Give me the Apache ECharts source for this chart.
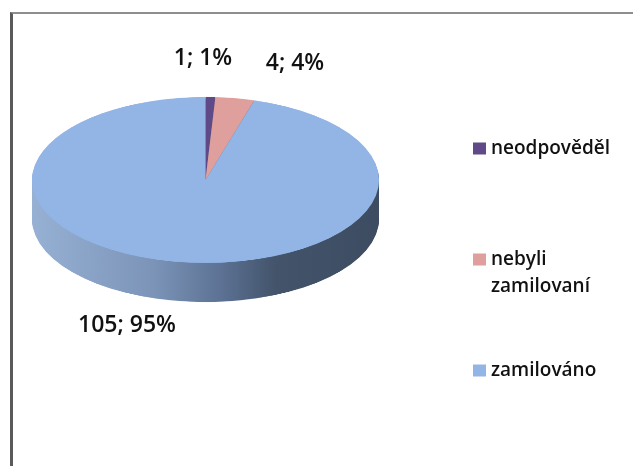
<!DOCTYPE html>
<html>
<head>
<meta charset="utf-8">
<script src="https://cdn.jsdelivr.net/npm/echarts@6/dist/echarts.min.js"></script>
<style>
html, body { margin: 0; padding: 0; background: #fff; }
#wrap { position: relative; width: 633px; height: 466px; overflow: hidden; background: #fff; }
#frame { position: absolute; left: 10px; top: 12px; right: -10px; bottom: -10px; border-left: 3px solid #5a5a5a; border-top: 2px solid #8e8e8e; }
#pie { position: absolute; left: 0; top: 0; width: 633px; transform-origin: 0 0; }
#front { position: absolute; left: 0; top: 0; width: 633px; height: 466px; }
</style>
</head>
<body>
<div id="wrap">
    <div id="frame"></div>
    <div id="pie"></div>
    <div id="front"></div>
</div>
<script>
var categories = ['neodpověděl', 'nebyli zamilovaní', 'zamilováno'];
var counts = [1, 4, 105];
var colors = ['#5f4a87', '#df9f9c', '#92b5e6'];

// pie geometry (final pixels); the ellipse is a circle squashed with css
var cx = 205.5, cy = 180, rad = 173.5, depth = 39;
var squash = 83 / 173.5;
var labelPos = [[203, 58], [295, 63], [127, 325]];

function GetPieData() {
    var Ret = [];
    for (var i = 0; i < categories.length; i++) {
        Ret.push({ name: categories[i], value: counts[i] });
    }
    return Ret;
}

function GetTopData() {
    var Ret = [];
    for (var i = 0; i < categories.length; i++) {
        Ret.push({ name: categories[i], value: counts[i], itemStyle: { color: colors[i] } });
    }
    return Ret;
}

var pieEl = document.getElementById('pie');
pieEl.style.height = Math.ceil(466 / squash) + 'px';
pieEl.style.transform = 'scaleY(' + squash + ')';

var sideColor = {
    type: 'linear', x: cx - rad, y: 0, x2: cx + rad, y2: 0, global: true,
    colorStops: [
        { offset: 0, color: '#97b1d4' },
        { offset: 0.35, color: '#7b94b7' },
        { offset: 0.55, color: '#5c7193' },
        { offset: 0.7, color: '#43546b' },
        { offset: 1, color: '#3d4c61' }
    ]
};

var pieSeries = [];
// side of the 3d pie: the same pie repeated downwards
for (var d = depth; d > 0; d--) {
    pieSeries.push({
        type: 'pie',
        silent: true,
        center: [cx, (cy + d) / squash],
        radius: [0, rad],
        itemStyle: { color: sideColor, borderWidth: 0 },
        label: { show: false },
        labelLine: { show: false },
        data: GetPieData()
    });
}
// top face
pieSeries.push({
    type: 'pie',
    silent: true,
    center: [cx, cy / squash],
    radius: [0, rad],
    itemStyle: { borderWidth: 0 },
    label: { show: false },
    labelLine: { show: false },
    data: GetTopData()
});

var pieChart = echarts.init(pieEl);
pieChart.setOption({
    animation: false,
    series: pieSeries
});

// labels and legend, not squashed (the pie here is only a point, it carries the labels)
var frontChart = echarts.init(document.getElementById('front'));
frontChart.setOption({
    animation: false,
    color: colors,
    legend: {
        orient: 'vertical',
        left: 473,
        top: 135,
        padding: 0,
        itemWidth: 13,
        itemHeight: 12,
        itemGap: 57,
        icon: 'rect',
        selectedMode: false,
        textStyle: {
            fontFamily: 'Open Sans',
            fontSize: 19,
            fontWeight: 600,
            color: '#111',
            lineHeight: 27
        },
        // two-word names wrap, with an empty first line so the icon sits on the first word
        formatter: function (name) {
            return name.indexOf(' ') > 0 ? '\n' + name.replace(' ', '\n') : name;
        },
        data: categories
    },
    series: [
        {
            type: 'pie',
            silent: true,
            center: [cx, cy],
            radius: [0, 0.5],
            percentPrecision: 0,
            itemStyle: { borderWidth: 0 },
            label: {
                show: true,
                formatter: '{c}; {d}%',
                fontFamily: 'Open Sans',
                fontSize: 23,
                fontWeight: 600,
                color: '#111'
            },
            labelLine: { show: false },
            labelLayout: function (params) {
                var p = labelPos[params.dataIndex];
                return { x: p[0], y: p[1], align: 'center', verticalAlign: 'middle' };
            },
            data: GetPieData()
        }
    ]
});
</script>
</body>
</html>
